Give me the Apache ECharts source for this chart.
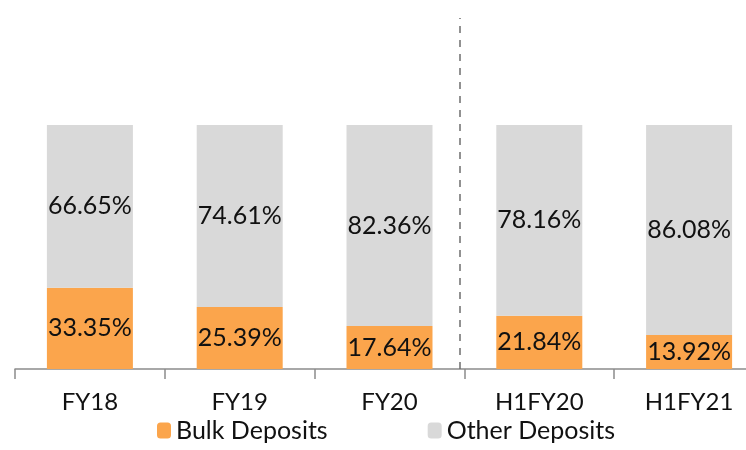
<!DOCTYPE html>
<html>
<head>
<meta charset="utf-8">
<script src="https://cdn.jsdelivr.net/npm/echarts@6/dist/echarts.min.js"></script>
<style>
html, body { margin: 0; padding: 0; background: #fff; overflow: hidden; }
/* the plot runs past the right edge of the picture, as in the source */
#chart { width: 764px; height: 450px; }
</style>
</head>
<body>
<div id="chart"></div>
<script>
var categories = ['FY18', 'FY19', 'FY20', 'H1FY20', 'H1FY21'];
var bulkDeposits = [33.35, 25.39, 17.64, 21.84, 13.92];
var otherDeposits = [66.65, 74.61, 82.36, 78.16, 86.08];
var separatorAt = 2.97; // between FY20 and H1FY20

var echart = echarts.init(document.getElementById('chart'));
var fontFamily = 'Lato, "DejaVu Sans", sans-serif';

var option = {
    animation: false,
    textStyle: { fontFamily: fontFamily },
    legend: {
        data: ['Bulk Deposits', 'Other Deposits'],
        bottom: 2,
        left: 152,
        itemWidth: 14,
        itemHeight: 16,
        itemGap: 100,
        textStyle: { fontSize: 25, color: '#111', fontFamily: fontFamily }
    },
    grid: {
        left: 15,
        right: 0,
        top: 18,
        bottom: 81
    },
    xAxis: [
        {
            type: 'category',
            data: categories,
            axisLine: { lineStyle: { color: '#8c8c8c', width: 1.5 } },
            axisTick: { show: true, length: 10, lineStyle: { color: '#8c8c8c', width: 1.5 } },
            axisLabel: { fontSize: 24, color: '#111', margin: 21, fontFamily: fontFamily }
        },
        {
            type: 'value',
            min: 0,
            max: 5,
            show: false
        }
    ],
    yAxis: {
        type: 'value',
        min: 0,
        max: 143.9,
        show: false
    },
    series: [
        {
            name: 'Bulk Deposits',
            type: 'bar',
            stack: 'total',
            barWidth: 86,
            data: bulkDeposits,
            itemStyle: { color: '#FBA54C' },
            label: {
                show: true,
                position: 'inside',
                formatter: function (p) { return p.value.toFixed(2) + '%'; },
                fontSize: 25,
                color: '#111',
                fontFamily: fontFamily
            }
        },
        {
            name: 'Other Deposits',
            type: 'bar',
            stack: 'total',
            barWidth: 86,
            data: otherDeposits,
            itemStyle: { color: '#D9D9D9' },
            label: {
                show: true,
                position: 'inside',
                formatter: function (p) { return p.value.toFixed(2) + '%'; },
                fontSize: 25,
                color: '#111',
                fontFamily: fontFamily
            }
        },
        {
            name: 'separator',
            type: 'line',
            xAxisIndex: 1,
            data: [],
            markLine: {
                silent: true,
                symbol: 'none',
                label: { show: false },
                lineStyle: { color: '#6e6e6e', type: [7, 7], width: 1.5 },
                data: [{ xAxis: separatorAt }]
            }
        }
    ]
};
echart.setOption(option);
</script>
</body>
</html>
